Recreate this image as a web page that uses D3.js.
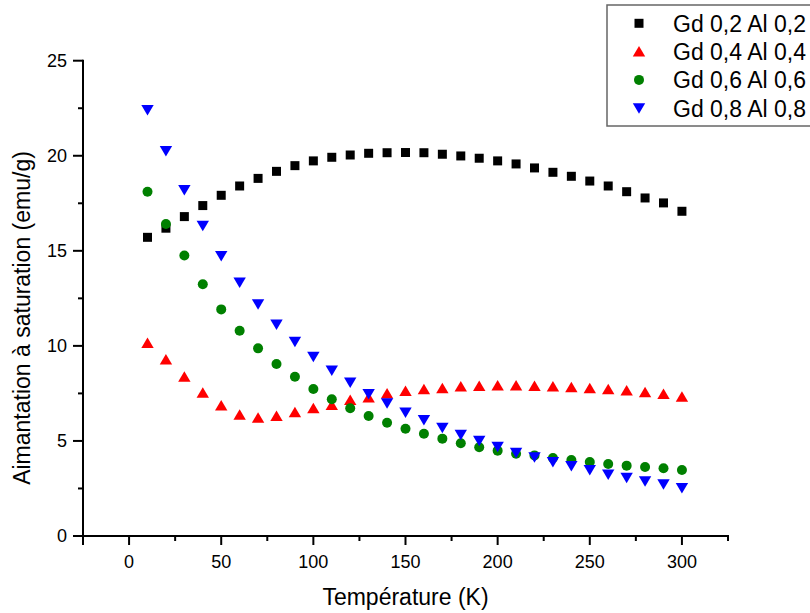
<!DOCTYPE html>
<html>
<head>
<meta charset="utf-8">
<script src="https://cdn.jsdelivr.net/npm/d3@7"></script>
<style>
  html, body { margin: 0; padding: 0; background: #fff; }
  svg { display: block; font-family: "Liberation Sans", Arial, sans-serif; }
</style>
</head>
<body>
<svg id="chart" width="810" height="613"></svg>
<script>
const temperatures = [10,20,30,40,50,60,70,80,90,100,110,120,130,140,150,160,170,180,190,200,210,220,230,240,250,260,270,280,290,300];
const gd02 = [15.71,16.19,16.8,17.38,17.92,18.41,18.81,19.18,19.48,19.73,19.92,20.04,20.13,20.16,20.17,20.16,20.08,19.99,19.87,19.73,19.57,19.36,19.13,18.92,18.67,18.41,18.11,17.78,17.52,17.08];
const gd04 = [10.15,9.28,8.38,7.54,6.87,6.38,6.22,6.31,6.51,6.72,6.89,7.15,7.29,7.5,7.63,7.72,7.77,7.86,7.89,7.91,7.91,7.89,7.86,7.82,7.77,7.72,7.65,7.56,7.47,7.33];
const gd06 = [18.11,16.41,14.75,13.24,11.92,10.8,9.87,9.05,8.38,7.73,7.19,6.72,6.31,5.96,5.64,5.38,5.12,4.88,4.67,4.49,4.33,4.24,4.1,4.0,3.89,3.79,3.7,3.63,3.56,3.47];
const gd08 = [22.41,20.25,18.2,16.32,14.73,13.33,12.19,11.13,10.22,9.43,8.7,8.07,7.47,6.98,6.49,6.1,5.7,5.33,5.01,4.7,4.38,4.14,3.89,3.68,3.47,3.24,3.07,2.88,2.72,2.52];
const seriesNames = ["Gd 0,2 Al 0,2","Gd 0,4 Al 0,4","Gd 0,6 Al 0,6","Gd 0,8 Al 0,8"];
const seriesColors = ["#000000","#ff0000","#008000","#0000ff"];
const seriesShapes = ["square","up","circle","down"];
const xTicks = [0,50,100,150,200,250,300];
const yTicks = [0,5,10,15,20,25];
const xLabel = "Température (K)";
const yLabel = "Aimantation à saturation (emu/g)";

const seriesValues = [gd02, gd04, gd06, gd08];

(function () {
const svg = d3.select("#chart");
const pLeft = 83, pRight = 728, pTop = 60.7, pBottom = 536;

const x = d3.scaleLinear().domain([-25, 325]).range([pLeft, pRight]);
const y = d3.scaleLinear().domain([0, 25]).range([pBottom, pTop]);

function shapePath(shape) {
  if (shape === "square") return "M-4.5,-4.5H4.5V4.5H-4.5Z";
  if (shape === "circle") return "M5,0A5,5 0 1,1 -5,0A5,5 0 1,1 5,0Z";
  if (shape === "up") return "M0,-5.5L6.2,5L-6.2,5Z";
  return "M0,5.5L6.2,-5L-6.2,-5Z";
}

const xMinor = d3.range(-25, 326, 25);
const yMinor = d3.range(0, 25.01, 2.5);

const gx = svg.append("g").attr("transform", `translate(0,${pBottom})`);
gx.append("line").attr("x1", pLeft - 1).attr("x2", pRight + 1).attr("stroke", "#000").attr("stroke-width", 2);
gx.selectAll("line.tick").data(xMinor).enter().append("line")
  .attr("x1", d => x(d)).attr("x2", d => x(d))
  .attr("y1", 0).attr("y2", d => xTicks.includes(d) ? 9 : 5)
  .attr("stroke", "#000").attr("stroke-width", 2);
gx.selectAll("text").data(xTicks).enter().append("text")
  .attr("x", d => x(d)).attr("y", 32)
  .attr("text-anchor", "middle").attr("font-size", 18).text(d => d);

const gy = svg.append("g");
gy.append("line").attr("x1", pLeft).attr("x2", pLeft).attr("y1", pTop - 1).attr("y2", pBottom + 9)
  .attr("stroke", "#000").attr("stroke-width", 2);
gy.selectAll("line.tick").data(yMinor).enter().append("line")
  .attr("y1", d => y(d)).attr("y2", d => y(d))
  .attr("x1", pLeft).attr("x2", d => (d % 5 === 0) ? pLeft - 10 : pLeft - 5)
  .attr("stroke", "#000").attr("stroke-width", 2);
gy.selectAll("text").data(yTicks).enter().append("text")
  .attr("x", 67).attr("y", d => y(d)).attr("dy", "0.36em")
  .attr("text-anchor", "end").attr("font-size", 18).text(d => d);

svg.append("text").attr("x", (pLeft + pRight) / 2).attr("y", 605)
  .attr("text-anchor", "middle").attr("font-size", 23).text(xLabel);
svg.append("text").attr("transform", `translate(30,318) rotate(-90)`)
  .attr("text-anchor", "middle").attr("font-size", 23).text(yLabel);

seriesValues.forEach((vals, i) => {
  svg.append("g").selectAll("path").data(vals).enter().append("path")
    .attr("transform", (d, j) => `translate(${x(temperatures[j])},${y(d)})`)
    .attr("d", shapePath(seriesShapes[i]))
    .attr("fill", seriesColors[i]);
});

const lg = svg.append("g");
lg.append("rect").attr("x", 607).attr("y", 5).attr("width", 220).attr("height", 121)
  .attr("fill", "#fff").attr("stroke", "#666").attr("stroke-width", 1.5);
seriesNames.forEach((name, i) => {
  const cy = 23.3 + i * 28.3;
  lg.append("path").attr("transform", `translate(639,${cy})`)
    .attr("d", shapePath(seriesShapes[i])).attr("fill", seriesColors[i]);
  lg.append("text").attr("x", 673).attr("y", cy + 8.3)
    .attr("font-size", 23).text(name);
});
})();
</script>
</body>
</html>
